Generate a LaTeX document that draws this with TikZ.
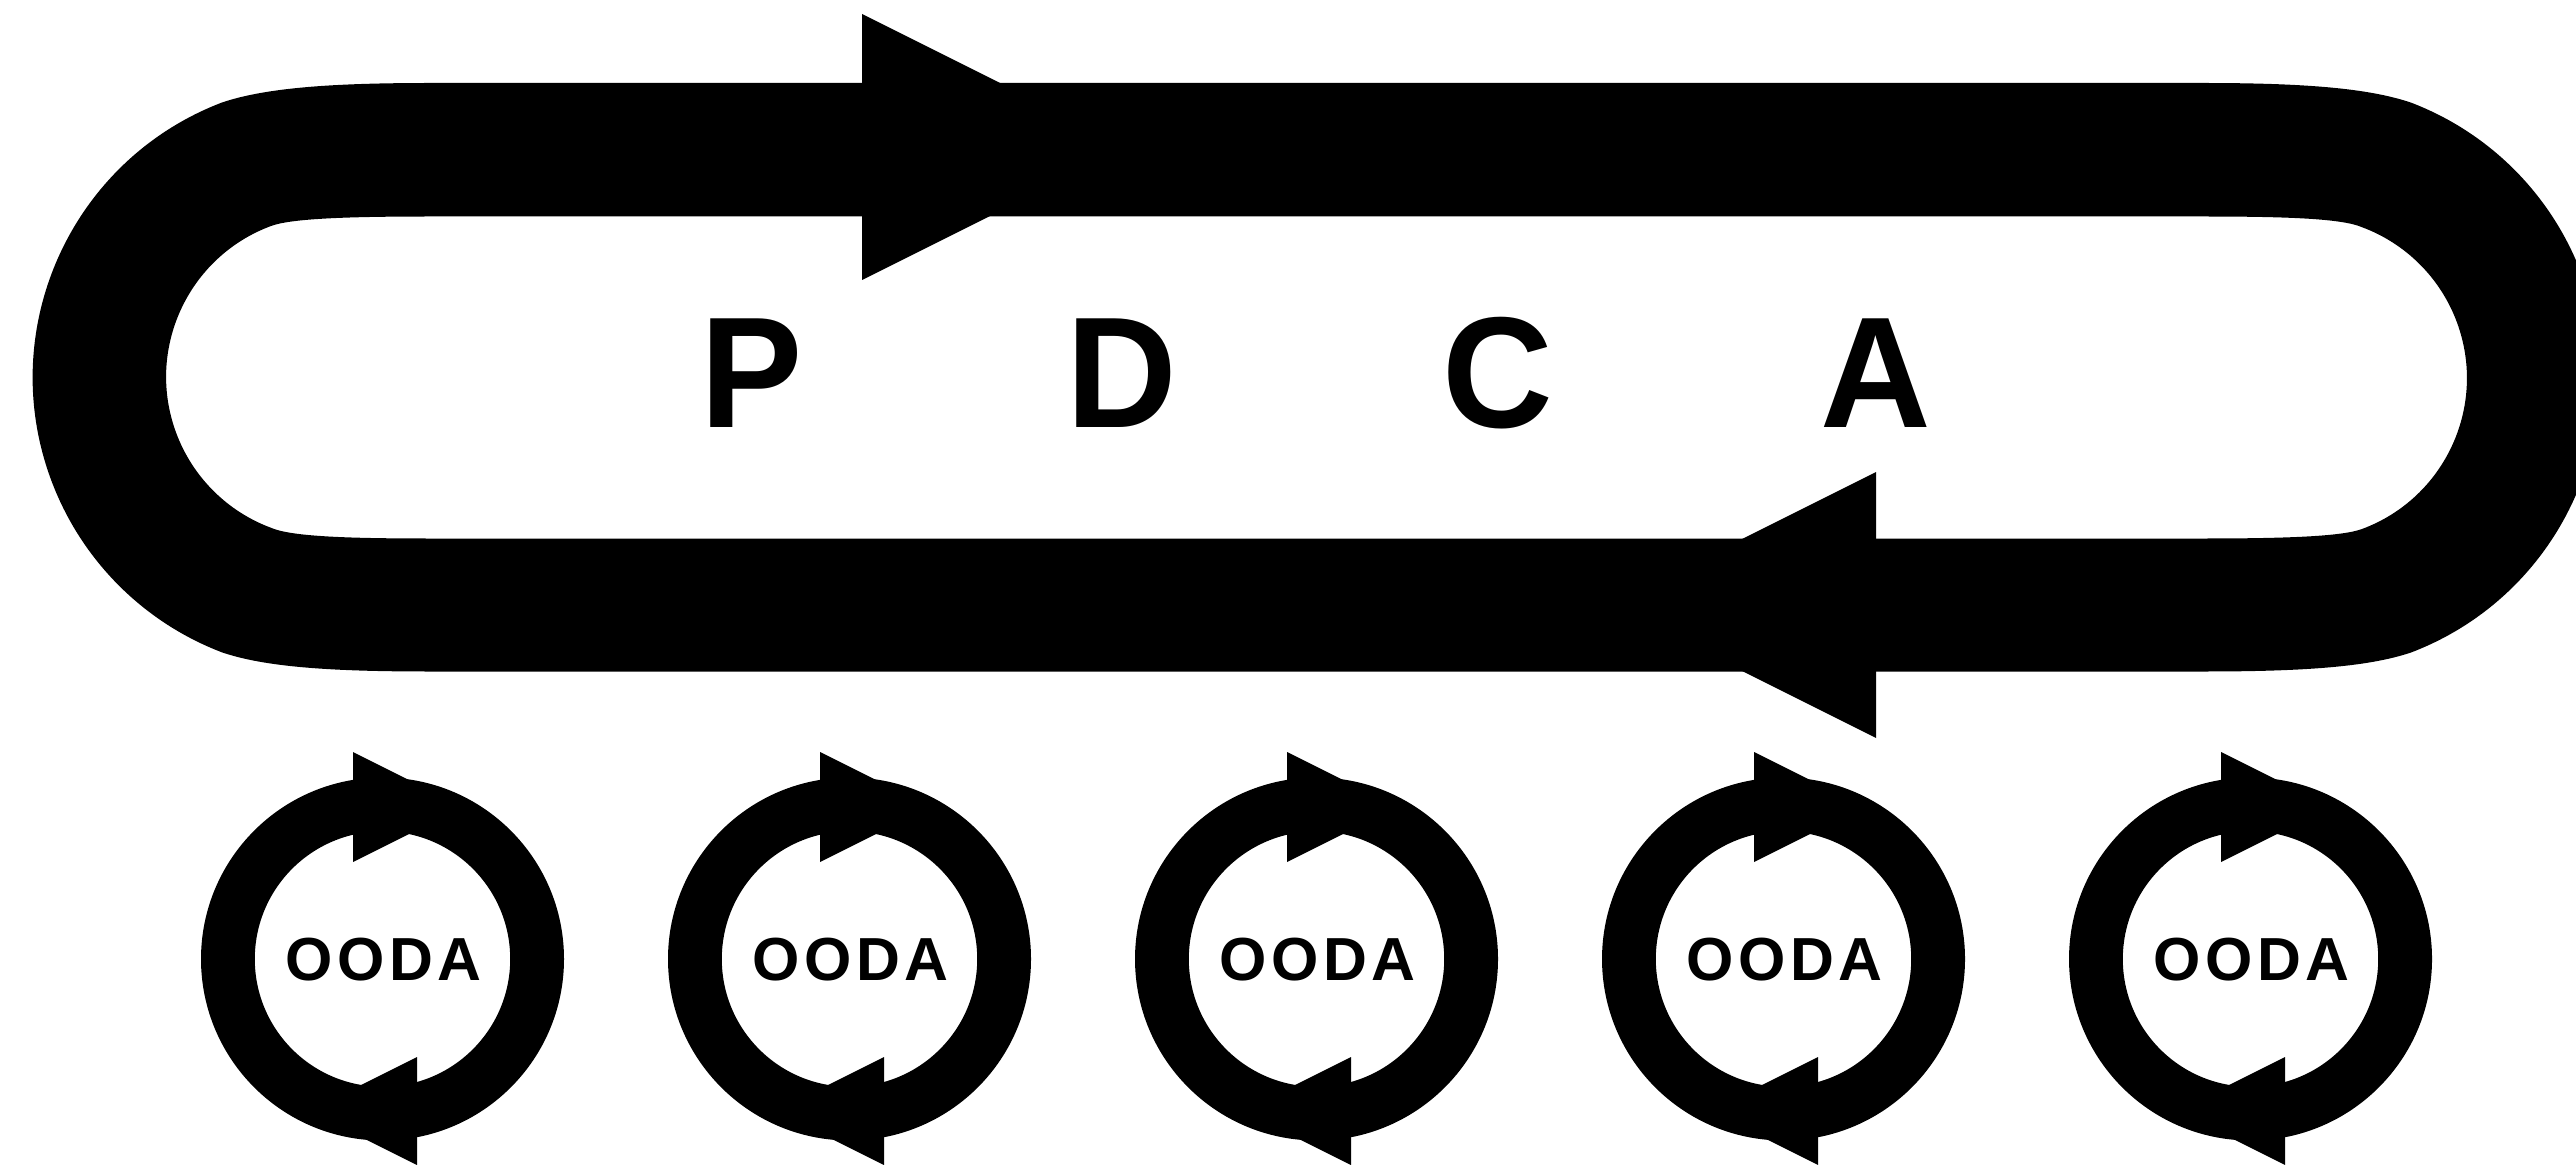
\documentclass[tikz,border=0pt]{standalone}
\usepackage{fontspec}
\setmainfont{Liberation Sans}[BoldFont={* Bold}]
\newfontfamily\bigfont{Liberation Sans Bold}[FakeStretch=0.97]
\newfontfamily\smallfont{Liberation Sans Bold}[LetterSpace=7.5]
\tikzset{
  band/.style={fill=black,even odd rule},
  head/.style={fill=black},
  bigletter/.style={anchor=base,inner sep=0pt,font=\bigfont\fontsize{39.5pt}{42pt}\selectfont},
  ringtext/.style={anchor=center,inner sep=0pt,font=\smallfont\fontsize{15.2pt}{17pt}\selectfont}
}
\begin{document}
\begin{tikzpicture}[x=0.25pt,y=-0.25pt]
\useasboundingbox (0,0) rectangle (2576,1165);
\fill[white] (0,0) rectangle (2576,1165);
\begin{scope}
\clip (0,0) rectangle (2576,1165);
% large racetrack loop
\path[band]
  (430,83) .. controls (330,83) and (265,88) .. (222,102.5)
  arc[start angle=249.1,end angle=110.9,radius=294.3]
  .. controls (265,667) and (330,671.5) .. (430,671.5)
  -- (2203,671.5)
  .. controls (2303,671.5) and (2368,667) .. (2411,652.5)
  arc[start angle=69.1,end angle=-69.1,radius=294.3]
  .. controls (2368,88) and (2303,83) .. (2203,83)
  -- cycle
  (430,216.5) .. controls (340,216.5) and (290,219) .. (271,226)
  arc[start angle=249.6,end angle=110.4,radius=161]
  .. controls (290,536) and (340,538.5) .. (430,538.5)
  -- (2203,538.5)
  .. controls (2293,538.5) and (2343,536) .. (2362,529)
  arc[start angle=69.6,end angle=-69.6,radius=161]
  .. controls (2343,219) and (2293,216.5) .. (2203,216.5)
  -- cycle;
\fill[head] (862,14) -- (1128,147) -- (862,280) -- cycle;
\fill[head] (1876,472) -- (1610,605) -- (1876,738) -- cycle;
\node[bigletter] (p) at (751.5,427) {P};
\node[bigletter] (d) at (1122,427) {D};
\node[bigletter] (c) at (1498,427) {C};
\node[bigletter] (a) at (1876,427) {A};
% small rings
\foreach \i/\cx in {1/382.5,2/849.5,3/1316.5,4/1783.5,5/2250.5}{
  \path[band] (\cx,959) circle (181.5) (\cx,959) circle (127.7);
  \fill[head] (\cx-29.5,752) -- (\cx+80.5,807) -- (\cx-29.5,862) -- cycle;
  \fill[head] (\cx+34.5,1057) -- (\cx-73.5,1111) -- (\cx+34.5,1165) -- cycle;
  \node[ringtext] (ooda\i) at (\cx+1,959.5) {OODA};
}
\end{scope}
\end{tikzpicture}
\end{document}
